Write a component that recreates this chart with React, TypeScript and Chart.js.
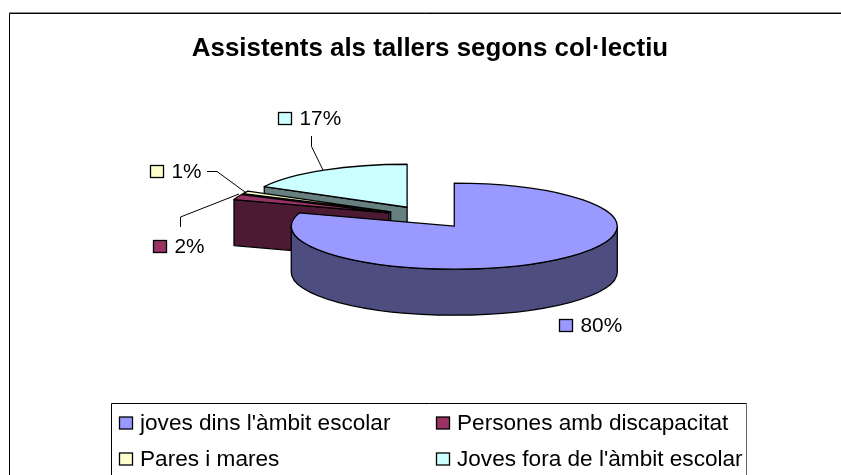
import React, { useEffect, useRef } from "react";
import { Chart, registerables } from "chart.js";

Chart.register(...registerables);

const TITLE = "Assistents als tallers segons col·lectiu";
const categories = [
  "joves dins l'àmbit escolar",
  "Persones amb discapacitat",
  "Pares i mares",
  "Joves fora de l'àmbit escolar",
];
const values = [80, 2, 1, 17];
const topColors = ["#9999FF", "#993366", "#FFFFCC", "#CCFFFF"];
const sideColors = ["#4D4D80", "#4D1A33", "#808066", "#668080"];

const FONT = "'Liberation Sans', Arial, sans-serif";
const LABEL_FONT_SIZE = 20.8;
const LEGEND_FONT_SIZE = 22.6;

const CX = 429;
const CY = 217;
const RX = 163;
const RY = 43;
const EXPLODE = 43;
const DEPTH = 46;

// data-label placement, in the same order as the categories
const labelBoxes = [
  { x: 559, y: 319 },
  { x: 153, y: 240 },
  { x: 150, y: 165 },
  { x: 278, y: 112 },
];
const leaders: ([number, number][] | null)[] = [
  null,
  [[180.5, 227], [180.5, 217], [239, 194]],
  [[207, 171.5], [217, 171.5], [245, 192]],
  [[311.5, 136], [311.5, 146.5], [323, 170]],
];
const legendCols = [119, 436];
const legendRows = [416.5, 452.5];

function drawSwatch(ctx: CanvasRenderingContext2D, x: number, y: number, color: string) {
  ctx.fillStyle = color;
  ctx.strokeStyle = "#000";
  ctx.lineWidth = 1.3;
  ctx.fillRect(x + 0.5, y + 0.5, 13, 12);
  ctx.strokeRect(x + 0.5, y + 0.5, 13, 12);
}

const pie3d = {
  id: "pie3d",
  beforeDraw(chart: any) {
    const ctx: CanvasRenderingContext2D = chart.ctx;
    ctx.save();
    ctx.fillStyle = "#fff";
    ctx.fillRect(0, 0, chart.width, chart.height);
    ctx.strokeStyle = "#8a8a8a";
    ctx.lineWidth = 1;
    ctx.beginPath();
    ctx.moveTo(9, 12.5);
    ctx.lineTo(chart.width, 12.5);
    ctx.stroke();
    ctx.strokeStyle = "#000";
    ctx.beginPath();
    ctx.moveTo(9.5, chart.height);
    ctx.lineTo(9.5, 13.5);
    ctx.lineTo(chart.width, 13.5);
    ctx.stroke();
    ctx.restore();
  },
  beforeDatasetsDraw(chart: any) {
    const ctx: CanvasRenderingContext2D = chart.ctx;
    const arcs = chart.getDatasetMeta(0).data;
    ctx.save();
    ctx.lineJoin = "round";
    ctx.strokeStyle = "#000";
    ctx.lineWidth = 1.3;
    for (let i = arcs.length - 1; i >= 0; i--) {
      const a0: number = arcs[i].startAngle;
      const a1: number = arcs[i].endAngle;
      const mid = (a0 + a1) / 2;
      const ax = CX + Math.cos(mid) * EXPLODE;
      const ay = CY + Math.sin(mid) * EXPLODE * (RY / RX);
      const px = (t: number) => ax + Math.cos(t) * RX;
      const py = (t: number) => ay + Math.sin(t) * RY;

      const face = (t: number) => {
        ctx.beginPath();
        ctx.moveTo(ax, ay);
        ctx.lineTo(px(t), py(t));
        ctx.lineTo(px(t), py(t) + DEPTH);
        ctx.lineTo(ax, ay + DEPTH);
        ctx.closePath();
        ctx.fillStyle = sideColors[i];
        ctx.fill();
        ctx.stroke();
      };
      if (Math.sin(a0 - Math.PI / 2) > 1e-6) face(a0);
      if (Math.sin(a1 + Math.PI / 2) > 1e-6) face(a1);

      // visible part of the outer rim
      const from = Math.max(a0, 0);
      const to = Math.min(a1, Math.PI);
      if (to > from) {
        ctx.beginPath();
        ctx.ellipse(ax, ay, RX, RY, 0, from, to);
        ctx.lineTo(px(to), py(to) + DEPTH);
        ctx.ellipse(ax, ay + DEPTH, RX, RY, 0, to, from, true);
        ctx.closePath();
        ctx.fillStyle = sideColors[i];
        ctx.fill();
        ctx.stroke();
      }

      // top surface
      ctx.beginPath();
      ctx.moveTo(ax, ay);
      ctx.ellipse(ax, ay, RX, RY, 0, a0, a1);
      ctx.closePath();
      ctx.fillStyle = topColors[i];
      ctx.fill();
      ctx.stroke();
    }
    ctx.restore();
    return false;
  },
  afterDraw(chart: any) {
    const ctx: CanvasRenderingContext2D = chart.ctx;
    const total = values.reduce((s, v) => s + v, 0);
    ctx.save();
    ctx.textBaseline = "alphabetic";
    ctx.textAlign = "left";

    // leader lines
    ctx.strokeStyle = "#000";
    ctx.lineWidth = 1;
    leaders.forEach((pts) => {
      if (!pts) return;
      ctx.beginPath();
      pts.forEach(([x, y], k) => (k ? ctx.lineTo(x, y) : ctx.moveTo(x, y)));
      ctx.stroke();
    });

    // data labels
    ctx.font = `${LABEL_FONT_SIZE}px ${FONT}`;
    values.forEach((v, i) => {
      const b = labelBoxes[i];
      drawSwatch(ctx, b.x, b.y, topColors[i]);
      ctx.fillStyle = "#000";
      ctx.fillText(`${Math.round((v / total) * 100)}%`, b.x + 21.5, b.y + 13);
    });

    // legend
    ctx.strokeStyle = "#000";
    ctx.lineWidth = 1;
    ctx.beginPath();
    ctx.moveTo(111.5, chart.height);
    ctx.lineTo(111.5, 403.5);
    ctx.lineTo(747, 403.5);
    ctx.stroke();
    ctx.strokeStyle = "#666";
    ctx.beginPath();
    ctx.moveTo(746.5, 403);
    ctx.lineTo(746.5, chart.height);
    ctx.stroke();
    ctx.font = `${LEGEND_FONT_SIZE}px ${FONT}`;
    categories.forEach((c, i) => {
      const x = legendCols[i % 2];
      const y = legendRows[Math.floor(i / 2)];
      drawSwatch(ctx, x, y, topColors[i]);
      ctx.fillStyle = "#000";
      ctx.fillText(c, x + 21, y + 13.5);
    });
    ctx.restore();
  },
};

export default function App() {
  const ref = useRef<HTMLCanvasElement>(null);
  useEffect(() => {
    const chart = new Chart(ref.current as HTMLCanvasElement, {
      type: "pie",
      data: {
        labels: categories,
        datasets: [{ data: values, backgroundColor: topColors }],
      },
      options: {
        responsive: false,
        animation: false,
        layout: { padding: { left: 19, bottom: 100 } },
        plugins: {
          legend: { display: false },
          tooltip: { enabled: false },
          title: {
            display: true,
            text: TITLE,
            color: "#000",
            font: { family: FONT, size: 25.9, weight: "bold" },
            padding: { top: 33, bottom: 10 },
          },
        },
      },
      plugins: [pie3d],
    } as any);
    return () => chart.destroy();
  }, []);
  return (
    <canvas
      ref={ref}
      width={841}
      height={475}
      style={{ position: "absolute", left: 0, top: 0, display: "block" }}
    />
  );
}
